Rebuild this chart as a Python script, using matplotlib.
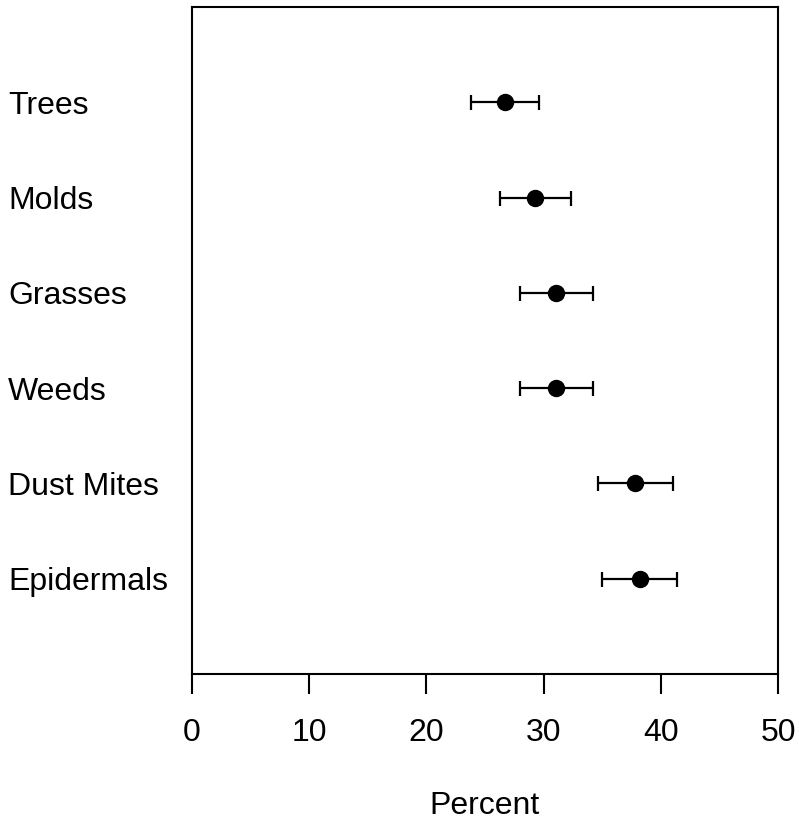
import numpy as np
import matplotlib
matplotlib.use("Agg")
import matplotlib.pyplot as plt

matplotlib.rcParams.update({'font.family': 'Liberation Sans', 'font.size': 23})

# allergen categories, top to bottom
categories = ['Trees', 'Molds', 'Grasses', 'Weeds', 'Dust Mites', 'Epidermals']
percent = [26.7, 29.3, 31.1, 31.1, 37.8, 38.2]
half_width = [2.9, 3.0, 3.1, 3.1, 3.2, 3.2]

ypos = np.arange(len(categories), 0, -1)

fig = plt.figure(figsize=(7.99, 8.26), dpi=100)
ax = fig.add_axes([192/799, 1 - 674/826, (778 - 192)/799, (674 - 7)/826])

ax.errorbar(percent, ypos, xerr=half_width, fmt='o', color='black',
            ms=11.5, elinewidth=1.6, capsize=5.4, capthick=1.6)

ax.set_xlim(0, 50)
ax.set_ylim(0, 7)
ax.set_xticks([0, 10, 20, 30, 40, 50])
ax.tick_params(axis='x', length=14.5, width=1.5, pad=17, direction='out')

ax.set_yticks(ypos)
ax.set_yticklabels(categories)
ax.tick_params(axis='y', length=0, pad=184*0.72)
for lab in ax.get_yticklabels():
    lab.set_horizontalalignment('left')

for s in ax.spines.values():
    s.set_linewidth(1.5)

ax.set_xlabel('Percent', labelpad=31)

fig.savefig('out.png', dpi=100)
